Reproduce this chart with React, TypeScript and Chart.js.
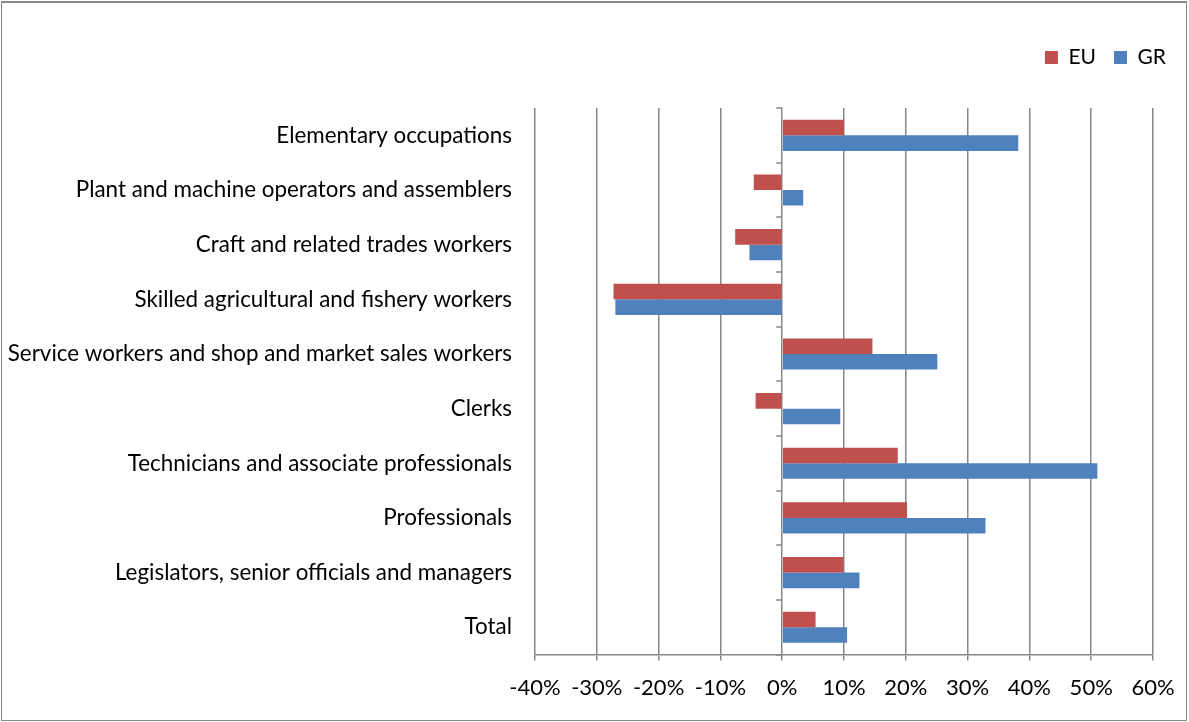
import React, { useEffect, useRef } from 'react';
import { Chart, registerables } from 'chart.js';

Chart.register(...registerables);

const categories = [
  'Elementary occupations',
  'Plant and machine operators and assemblers',
  'Craft and related trades workers',
  'Skilled agricultural and fishery workers',
  'Service workers and shop and market sales workers',
  'Clerks',
  'Technicians and associate professionals',
  'Professionals',
  'Legislators, senior officials and managers',
  'Total',
];

const euValues = [10.0, -4.6, -7.6, -27.3, 14.6, -4.3, 18.7, 20.2, 9.9, 5.4];
const grValues = [38.2, 3.4, -5.3, -27.0, 25.1, 9.4, 51.0, 32.9, 12.5, 10.5];

const xMin = -40;
const xMax = 60;
const xStep = 10;

const FONT = 'Lato, "Open Sans", sans-serif';
const GRID = '#878787';

const zeroAxisTicks = {
  id: 'zeroAxisTicks',
  afterDatasetsDraw(chart: any) {
    const xs = chart.scales.x;
    const ys = chart.scales.y;
    const ctx = chart.ctx;
    const x0 = xs.getPixelForValue(0);
    const n = ys.getLabels().length;
    ctx.save();
    ctx.strokeStyle = GRID;
    ctx.lineWidth = 1.5;
    ctx.beginPath();
    for (let i = 0; i <= n; i++) {
      const py = Math.round(ys.getPixelForValue(i - 0.5));
      ctx.moveTo(x0 - 6, py);
      ctx.lineTo(x0, py);
    }
    ctx.stroke();
    ctx.restore();
  },
};

const legendSpacing = {
  id: 'legendSpacing',
  beforeUpdate(chart: any) {
    const lg = chart.legend;
    if (lg && !lg.__patched) {
      const fit = lg.fit;
      lg.fit = function () {
        fit.call(this);
        this.height += 30;
      };
      lg.__patched = true;
    }
  },
};

export default function App() {
  const ref = useRef<HTMLCanvasElement | null>(null);

  useEffect(() => {
    if (!ref.current) return;
    const chart = new Chart(ref.current, {
      type: 'bar',
      data: {
        labels: categories,
        datasets: [
          {
            label: 'EU',
            data: euValues,
            backgroundColor: '#C0504D',
            borderWidth: 0,
            categoryPercentage: 0.57,
            barPercentage: 1.0,
          },
          {
            label: 'GR',
            data: grValues,
            backgroundColor: '#4F81BD',
            borderWidth: 0,
            categoryPercentage: 0.57,
            barPercentage: 1.0,
          },
        ],
      },
      options: {
        indexAxis: 'y',
        responsive: false,
        animation: false,
        layout: { padding: { left: 8, right: 5, top: 29, bottom: 7 } },
        plugins: {
          legend: {
            position: 'top',
            align: 'end',
            labels: {
              boxWidth: 13,
              boxHeight: 13,
              padding: 18,
              color: '#000',
              font: { family: FONT, size: 21 },
            },
          },
          tooltip: { enabled: false },
        },
        scales: {
          x: {
            min: xMin,
            max: xMax,
            ticks: {
              stepSize: xStep,
              color: '#000',
              font: { family: FONT, size: 22 },
              padding: 14,
              callback: (v: any) => `${v}%`,
            },
            grid: {
              color: GRID,
              lineWidth: 1.5,
              tickLength: 6,
              drawTicks: true,
            },
            border: { color: GRID, width: 1.5 },
          },
          y: {
            ticks: {
              color: '#000',
              font: { family: FONT, size: 22.4 },
              padding: 23,
              autoSkip: false,
            },
            grid: { display: false, drawTicks: false },
            border: { display: false },
            afterFit: (scale: any) => {
              scale.width = 527;
            },
          },
          yRight: {
            type: 'category',
            axis: 'y',
            position: 'right',
            display: true,
            ticks: { display: false },
            grid: { display: false, drawTicks: false },
            border: { display: false },
            afterFit: (scale: any) => {
              scale.width = 31;
            },
          },
        },
      },
      plugins: [zeroAxisTicks, legendSpacing],
    });
    return () => chart.destroy();
  }, []);

  return (
    <div style={{ position: 'absolute', left: 0, top: 0, width: 1189, height: 722, background: '#fff' }}>
      <canvas ref={ref} width={1189} height={722} style={{ display: 'block' }} />
      <div
        style={{
          position: 'absolute',
          left: 1,
          top: 1,
          width: 1186,
          height: 720,
          boxSizing: 'border-box',
          borderTop: '2px solid #868686',
          borderLeft: '1px solid #868686',
          borderRight: '1px solid #868686',
          borderBottom: '1px solid #868686',
          pointerEvents: 'none',
        }}
      />
    </div>
  );
}
